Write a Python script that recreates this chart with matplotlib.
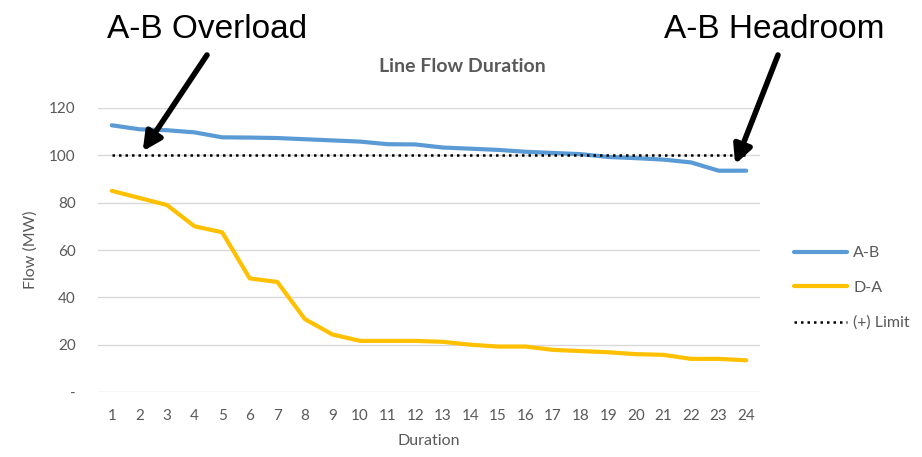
import matplotlib.pyplot as plt
import numpy as np

# hours in the duration curve
hours = list(range(1, 25))

# flows (MW), sorted high to low
flow_ab = [112.7, 111.0, 110.6, 109.7, 107.6, 107.5, 107.3, 106.8, 106.3, 105.8, 104.7, 104.6,
           103.3, 102.8, 102.3, 101.5, 101.0, 100.5, 99.3, 98.8, 98.2, 97.0, 93.5, 93.5]
flow_da = [85.0, 82.0, 79.0, 70.0, 67.5, 48.0, 46.5, 30.8, 24.3, 21.6, 21.6, 21.6,
           21.2, 20.0, 19.2, 19.2, 17.8, 17.3, 16.8, 16.0, 15.7, 14.0, 14.0, 13.4]
limit = [100] * 24

series_names = ['A-B', 'D-A', '(+) Limit']
yticks = [0, 20, 40, 60, 80, 100, 120]
ytick_labels = ['-', '20', '40', '60', '80', '100', '120']

plt.rcParams['font.family'] = ['Lato', 'DejaVu Sans']
grey = '#595959'

fig = plt.figure(figsize=(9.22, 4.57), dpi=100)
ax = fig.add_axes([0.1063, 0.1422, 0.7180, 0.6215])

x = np.array(hours)
ax.plot(x, flow_ab, color='#5B9BD5', lw=3, solid_capstyle='round', solid_joinstyle='round', label=series_names[0])
ax.plot(x, flow_da, color='#FFC000', lw=3, solid_capstyle='round', solid_joinstyle='round', label=series_names[1])
ax.plot(x, limit, color='black', lw=1.8, ls=(0, (1, 1.6)), label=series_names[2])

ax.set_xlim(0.5, 24.5)
ax.set_ylim(0, 120)
ax.set_xticks(x)
ax.set_xticklabels([str(h) for h in hours])
ax.set_yticks(yticks)
ax.set_yticklabels(ytick_labels)
ax.tick_params(length=0, colors=grey, labelsize=11, pad=12)
ax.tick_params(axis='y', pad=16)
ax.grid(axis='y', color='#d9d9d9', lw=1)
ax.set_axisbelow(True)
for s in ax.spines.values():
    s.set_visible(False)

ax.set_xlabel('Duration', color=grey, fontsize=11.5, labelpad=8)
ax.set_ylabel('Flow (MW)', color=grey, fontsize=11.5, labelpad=8)
fig.text(0.502, 0.855, 'Line Flow Duration', ha='center', va='center',
         fontsize=14, fontweight='bold', color=grey)

leg = ax.legend(loc='upper left', bbox_to_anchor=(1.03, 0.565), frameon=False,
                fontsize=11.5, labelspacing=1.3, handlelength=3.3, handletextpad=0.4)
for t in leg.get_texts():
    t.set_color(grey)

# call-out annotations
big = ['Liberation Sans Narrow', 'Liberation Sans', 'DejaVu Sans']
fig.text(107, 457 - 38, 'A-B Overload', transform=None, fontsize=24, family=big, va='baseline')
fig.text(884, 457 - 38, 'A-B Headroom', transform=None, fontsize=24, family=big, va='baseline', ha='right')
arrow = dict(arrowstyle='-|>,head_length=1.1,head_width=0.55', color='black', lw=4, shrinkA=0, shrinkB=0)
ax.annotate('', xy=(2.12, 101.7), xytext=(207, 457 - 55), textcoords='figure pixels', arrowprops=arrow)
ax.annotate('', xy=(23.6, 96.2), xytext=(778, 457 - 55), textcoords='figure pixels', arrowprops=arrow)

fig.savefig('out.png', dpi=100)
